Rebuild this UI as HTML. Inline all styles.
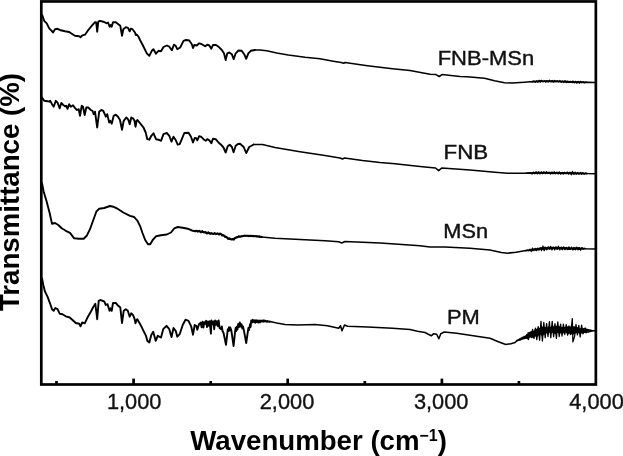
<!DOCTYPE html>
<html><head><meta charset="utf-8"><title>FTIR spectra</title>
<style>
html,body{margin:0;padding:0;background:#fff;}
body{width:623px;height:456px;overflow:hidden;}
svg{display:block;font-family:"Liberation Sans",Arial,Helvetica,sans-serif;}
.c{fill:none;stroke:#000;stroke-linejoin:round;stroke-linecap:round;}
.r{stroke-width:1.55;}
.l{stroke-width:1.9;}
.s{stroke-width:1.1;}
.ax{fill:none;stroke:#000;stroke-width:2.7;}
.tk line{stroke:#000;stroke-width:2.7;}
.tl text{font-size:21.8px;fill:#111;stroke:#111;stroke-width:0.35;}
.sl text{font-size:20.3px;fill:#111;stroke:#111;stroke-width:0.4;}
.al{font-weight:bold;font-size:28.3px;fill:#000;}
</style></head><body>
<svg width="623" height="456" viewBox="0 0 623 456">
<rect width="623" height="456" fill="#fff"/>
<g class="c r">
<path d="M255.0,50.0 L260.0,50.0 L266.7,50.8 L276.7,53.0 L288.3,55.0 L305.0,57.2 L320.0,58.8 L333.3,61.2 L341.2,62.5 L343.7,63.2 L345.0,62.5 L367.5,65.7 L392.5,68.7 L410.0,70.5 L430.0,74.2 L436.0,74.6 L439.2,76.5 L442.0,74.6 L460.0,76.5 L467.0,76.7 L484.5,78.2 L494.5,80.7 L504.5,82.7 L512.0,83.0 L524.5,82.2 L530.0,81.8 L530.6,81.8 L531.2,81.7 L531.8,81.8 L532.4,81.4 L533.0,81.8 L533.6,81.3 L534.2,81.8 L534.8,81.2 L535.4,81.8 L536.0,81.2 L536.6,81.7 L537.2,81.0 L537.8,81.7 L538.4,81.0 L539.0,81.6 L539.6,80.9 L540.2,81.5 L540.8,80.9 L541.4,81.4 L542.0,81.0 L542.6,81.4 L543.2,81.0 L543.8,81.5 L544.4,81.0 L545.0,81.4 L545.6,81.0 L546.2,81.6 L546.8,80.8 L547.4,81.5 L548.0,81.0 L548.6,81.4 L549.2,81.0 L549.8,81.5 L550.4,81.0 L551.0,81.5 L551.6,81.0 L552.2,81.6 L552.8,80.8 L553.4,81.5 L554.0,81.0 L554.6,81.6 L555.2,81.0 L555.8,81.5 L556.4,81.1 L557.0,81.6 L557.6,81.1 L558.2,81.6 L558.8,81.2 L559.4,81.7 L560.0,81.3 L560.6,81.7 L561.2,81.3 L561.8,81.8 L562.4,81.4 L563.0,81.8 L563.6,81.4 L564.2,81.9 L564.8,81.4 L565.4,82.0 L566.0,81.4 L566.6,82.1 L567.2,81.4 L567.8,82.2 L568.4,81.6 L569.0,82.1 L569.6,81.5 L570.2,82.1 L570.8,81.6 L571.4,82.3 L572.0,81.8 L572.6,82.4 L573.2,81.7 L573.8,82.3 L574.4,81.7 L575.0,82.4 L575.6,81.9 L576.2,82.4 L576.8,81.8 L577.4,82.5 L578.0,81.8 L578.6,82.5 L579.2,81.9 L579.8,82.5 L580.4,81.9 L581.0,82.5 L581.6,82.0 L582.2,82.4 L582.8,82.0 L583.4,82.5 L584.0,82.1 L584.6,82.6 L585.2,82.1 L585.8,82.5 L586.4,82.2 L587.0,82.4 L587.6,82.3 L595.0,82.5"/>
<path d="M253.7,144.5 L262.5,144.5 L275.0,147.5 L300.0,151.7 L325.0,155.5 L340.0,158.0 L342.5,159.0 L344.5,158.0 L362.5,160.5 L380.0,162.5 L395.0,163.7 L420.0,166.5 L435.5,168.0 L438.7,170.7 L441.7,168.0 L470.0,170.0 L495.0,172.3 L507.5,173.2 L525.0,173.2 L527.0,173.1 L527.6,173.2 L528.2,173.0 L528.8,173.2 L529.4,172.8 L530.0,173.3 L530.6,172.8 L531.2,173.4 L531.8,172.7 L532.4,173.2 L533.0,172.6 L533.6,173.3 L534.2,172.6 L534.8,173.3 L535.4,172.3 L536.0,173.2 L536.6,172.5 L537.2,173.1 L537.8,172.4 L538.4,173.2 L539.0,172.3 L539.6,173.1 L540.2,172.5 L540.8,173.0 L541.4,172.5 L542.0,173.2 L542.6,172.5 L543.2,173.1 L543.8,172.6 L544.4,173.0 L545.0,172.5 L545.6,173.2 L546.2,172.4 L546.8,173.2 L547.4,172.5 L548.0,173.2 L548.6,172.5 L549.2,173.2 L549.8,172.6 L550.4,173.3 L551.0,172.6 L551.6,173.4 L552.2,172.4 L552.8,173.1 L553.4,172.6 L554.0,173.4 L554.6,172.4 L555.2,173.3 L555.8,172.7 L556.4,173.2 L557.0,172.5 L557.6,173.2 L558.2,172.6 L558.8,173.2 L559.4,172.6 L560.0,173.5 L560.6,172.8 L561.2,173.5 L561.8,172.7 L562.4,173.5 L563.0,172.7 L563.6,173.3 L564.2,172.6 L564.8,173.4 L565.4,172.9 L566.0,173.3 L566.6,172.8 L567.2,173.5 L567.8,172.8 L568.4,173.4 L569.0,172.9 L569.6,173.5 L570.2,172.7 L570.8,173.4 L571.4,172.8 L572.0,173.7 L572.6,173.0 L573.2,173.7 L573.8,172.8 L574.4,173.7 L575.0,173.0 L575.6,173.6 L576.2,173.0 L576.8,173.8 L577.4,172.9 L578.0,173.6 L578.6,173.0 L579.2,173.6 L579.8,173.2 L580.4,173.6 L581.0,172.9 L581.6,173.7 L582.2,172.9 L582.8,173.7 L583.4,173.2 L584.0,173.8 L584.6,173.3 L585.2,173.7 L585.8,173.2 L586.4,173.7 L587.0,173.4 L587.6,173.6 L595.0,173.7"/>
<path d="M259.2,236.4 L260.0,237.0 L260.8,236.6 L261.6,237.1 L275.0,238.2 L300.0,239.5 L325.0,240.7 L338.7,241.7 L341.7,243.0 L345.0,241.5 L362.5,242.2 L380.0,243.0 L395.0,244.0 L420.0,245.7 L430.0,247.0 L445.0,247.0 L470.0,248.2 L490.0,250.0 L501.3,252.6 L507.6,253.2 L516.0,252.2 L526.0,250.6 L526.6,250.6 L527.2,250.3 L527.8,250.5 L528.4,250.1 L529.0,250.5 L529.6,249.8 L530.2,250.5 L530.8,249.5 L531.4,250.3 L532.0,249.5 L532.6,250.5 L533.2,249.3 L533.8,250.2 L534.4,249.1 L535.0,249.9 L535.6,248.7 L536.2,250.1 L536.8,248.8 L537.4,249.8 L538.0,248.6 L538.6,249.6 L539.2,248.4 L539.8,249.2 L540.4,248.3 L541.0,249.1 L541.6,247.8 L542.2,249.1 L542.8,247.9 L543.4,249.4 L544.0,247.3 L544.6,249.1 L545.2,247.8 L545.8,248.9 L546.4,247.8 L547.0,248.9 L547.6,247.8 L548.2,248.7 L548.8,247.8 L549.4,248.8 L550.0,247.4 L550.6,248.8 L551.2,247.6 L551.8,248.6 L552.4,247.5 L553.0,248.6 L553.6,247.6 L554.2,248.4 L554.8,247.6 L555.4,248.8 L556.0,247.6 L556.6,248.6 L557.2,247.4 L557.8,248.8 L558.4,247.7 L559.0,248.6 L559.6,247.7 L560.2,248.7 L560.8,247.7 L561.4,249.0 L562.0,247.5 L562.6,249.0 L563.2,247.9 L563.8,248.6 L564.4,247.7 L565.0,249.1 L565.6,247.8 L566.2,249.0 L566.8,248.1 L567.4,248.9 L568.0,247.7 L568.6,249.2 L569.2,247.8 L569.8,249.3 L570.4,248.1 L571.0,248.9 L571.6,248.2 L572.2,249.2 L572.8,248.0 L573.4,249.4 L574.0,247.9 L574.6,249.2 L575.2,247.9 L575.8,249.1 L576.4,248.0 L577.0,248.9 L577.6,247.9 L578.2,249.0 L578.8,247.8 L579.4,249.2 L580.0,248.1 L580.6,248.9 L581.2,248.2 L581.8,249.0 L582.4,248.2 L583.0,248.8 L583.6,248.5 L584.2,248.8 L584.8,248.5 L585.4,248.7 L595.0,249.0"/>
<path d="M269.6,321.7 L270.0,321.6 L276.7,323.0 L285.0,324.4 L297.5,325.0 L315.0,324.5 L327.5,325.7 L338.7,328.2 L340.5,325.7 L342.0,330.7 L344.5,325.0 L347.5,326.2 L367.5,327.0 L392.5,328.2 L410.0,329.5 L417.5,331.2 L425.0,332.5 L428.3,334.2 L431.3,335.8 L433.7,333.7 L436.7,334.2 L438.8,338.8 L440.8,333.7 L444.2,332.0 L456.7,333.3 L473.3,335.8 L490.0,338.3 L498.3,341.7 L505.8,344.5 L510.8,343.7 L515.0,342.5 L515.6,341.8 L516.3,341.4 L517.0,340.4 L517.7,340.7 L518.4,339.6 L519.1,340.3 L519.8,338.9 L520.5,339.9 L521.2,338.0 L521.9,339.2 L522.6,337.4 L523.3,338.8 L524.0,336.5 L524.7,338.5 L525.4,336.1 L526.1,338.3 L526.8,335.0 L527.5,338.4 L528.2,332.8 L528.9,337.5 L529.6,332.7 L530.3,336.7 L531.0,331.8 L531.7,337.4 L532.4,331.4 L533.1,337.1 L533.8,331.2 L534.5,336.4 L535.2,330.0 L535.9,335.8 L536.6,329.6 L537.3,335.9 L538.0,328.3 L538.7,335.0 L539.4,328.5 L540.1,334.0 L540.8,328.2 L541.5,334.9 L542.2,327.3 L542.9,334.9 L543.6,328.5 L544.3,333.8 L545.0,327.5 L545.7,332.8 L546.4,327.7 L547.1,332.8 L547.8,328.1 L548.5,332.3 L549.2,326.5 L549.9,332.2 L550.6,327.5 L551.3,332.7 L552.0,326.2 L552.7,332.1 L553.4,327.0 L554.1,333.0 L554.8,326.2 L555.5,333.5 L556.2,326.2 L556.9,332.4 L557.6,327.2 L558.3,332.5 L559.0,326.4 L559.7,333.5 L560.4,327.9 L561.1,332.1 L561.8,327.7 L562.5,332.2 L563.2,327.2 L563.9,332.8 L564.6,327.6 L565.3,331.8 L566.0,327.3 L566.7,332.5 L567.4,327.1 L568.1,333.6 L568.8,326.9 L569.5,332.9 L570.2,327.1 L570.9,333.3 L571.6,328.1 L572.3,334.3 L573.0,326.7 L573.7,333.8 L574.4,327.1 L575.1,333.0 L575.8,327.9 L576.5,332.5 L577.2,327.7 L577.9,332.5 L578.6,328.8 L579.3,332.9 L580.0,328.7 L580.7,333.2 L581.4,328.9 L582.1,332.5 L582.8,328.8 L583.5,332.6 L584.2,328.5 L584.9,332.3 L585.6,328.3 L586.3,332.6 L587.0,329.6 L587.7,331.9 L588.4,329.7 L589.1,331.7 L589.8,330.2 L590.5,331.5 L591.2,330.4 L591.9,330.8 L592.6,330.8 L593.3,330.8 L594.0,330.8 L594.7,330.8 L595.0,330.8"/>
</g>
<g class="c l">
<path d="M42.0,15.0 L42.5,15.8 L44.2,20.8 L46.7,23.3 L49.2,28.3 L51.7,30.8 L53.0,32.5 L55.0,29.2 L57.5,28.8 L60.8,30.3 L65.0,31.2 L69.2,32.0 L72.5,34.2 L75.0,35.8 L79.2,36.2 L80.5,37.2 L82.5,35.3 L85.0,34.7 L88.3,30.0 L91.7,25.8 L95.0,22.2 L96.2,22.5 L97.2,31.7 L98.3,21.7 L100.0,20.8 L104.2,22.0 L106.7,23.3 L108.0,22.5 L109.7,26.7 L110.8,25.0 L111.7,26.7 L113.0,22.2 L115.8,22.2 L118.3,24.2 L120.3,25.8 L122.0,35.8 L123.3,29.2 L125.8,27.2 L128.0,27.8 L129.7,31.3 L130.8,28.7 L132.5,29.2 L135.0,32.5 L135.8,35.0 L137.0,34.7 L138.5,36.7 L140.0,40.0 L142.7,45.0 L146.8,53.3 L149.3,55.8 L151.8,50.8 L153.5,49.2 L156.0,53.7 L158.5,50.8 L161.0,51.3 L163.5,47.0 L166.8,45.5 L169.3,46.7 L171.8,50.3 L174.0,44.7 L175.7,45.8 L177.3,49.2 L180.2,47.5 L183.5,40.8 L186.0,40.0 L189.3,40.5 L191.8,44.2 L193.0,48.0 L194.3,45.0 L196.8,45.5 L199.0,43.3 L201.8,44.2 L205.2,46.3 L207.3,44.7 L209.3,45.5 L211.3,48.7 L213.0,45.0 L216.0,45.0 L218.5,46.7 L221.8,50.0 L224.0,53.3 L225.7,60.0 L227.3,53.3 L229.3,52.5 L231.8,54.2 L233.7,59.2 L235.7,53.3 L238.5,50.5 L241.7,50.8 L244.2,54.2 L246.2,58.8 L248.3,53.3 L250.8,50.8 L255.0,50.0"/>
<path d="M42.0,97.5 L44.2,100.8 L47.5,101.2 L49.2,101.7 L50.3,100.8 L52.0,104.2 L53.7,106.7 L55.8,100.8 L57.5,102.5 L59.7,108.3 L61.3,103.0 L63.3,105.0 L65.0,106.3 L66.3,105.8 L67.5,108.8 L69.2,104.2 L70.8,106.7 L73.0,105.3 L75.3,108.3 L77.0,110.0 L78.7,109.2 L80.0,115.8 L81.7,105.8 L83.0,106.7 L84.7,115.0 L86.3,107.5 L88.3,107.5 L90.8,110.0 L92.5,110.8 L93.7,114.2 L95.0,111.7 L97.2,127.5 L99.2,111.7 L101.3,110.0 L103.3,110.8 L105.8,116.7 L107.2,114.2 L109.2,122.5 L110.3,120.8 L111.7,123.7 L113.7,115.8 L115.8,114.7 L118.0,116.7 L120.0,120.0 L122.0,129.7 L123.7,120.8 L126.3,117.5 L128.3,119.7 L129.7,124.2 L131.3,117.5 L133.0,118.3 L134.5,120.8 L135.5,126.7 L136.7,120.5 L137.5,120.0 L140.2,123.3 L143.5,127.5 L145.7,132.5 L147.3,139.2 L149.3,139.7 L151.3,135.8 L153.5,133.3 L156.0,139.2 L158.5,139.7 L161.0,140.8 L163.5,134.2 L166.8,133.0 L169.3,135.8 L171.5,141.7 L173.5,136.7 L175.7,140.0 L177.7,144.7 L179.7,144.2 L181.8,139.2 L184.3,133.0 L188.5,132.7 L191.0,136.7 L193.0,142.5 L194.7,138.0 L196.3,138.3 L197.3,140.3 L199.0,136.3 L201.0,136.7 L203.5,139.2 L205.7,140.8 L207.3,139.2 L209.3,140.3 L211.3,143.3 L213.0,138.7 L215.7,139.2 L218.5,142.5 L221.0,144.7 L223.5,147.5 L225.7,152.5 L227.7,146.2 L229.7,144.7 L231.8,146.7 L233.6,152.3 L235.7,145.8 L238.0,144.0 L240.0,143.7 L243.7,147.0 L246.2,153.0 L249.2,147.0 L253.7,144.5"/>
<path d="M42.0,183.3 L43.7,191.7 L46.7,201.7 L49.7,213.3 L52.0,223.7 L55.0,223.0 L58.3,225.0 L61.7,228.3 L65.8,230.8 L70.0,232.8 L74.2,238.3 L79.2,238.7 L83.7,238.7 L86.7,235.8 L90.0,229.2 L93.3,220.0 L96.3,211.7 L99.2,208.7 L104.2,208.0 L110.0,206.0 L113.3,206.7 L118.3,209.2 L123.3,212.5 L130.0,215.8 L134.2,217.0 L137.5,220.8 L140.0,225.8 L142.5,233.0 L145.2,240.0 L148.0,244.2 L150.2,244.2 L152.7,240.0 L156.0,236.3 L161.0,235.3 L166.8,234.5 L171.0,232.5 L174.3,228.3 L177.7,227.0 L182.7,227.7 L187.7,228.7 L192.0,230.5 L192.8,230.9 L193.6,230.8 L194.4,231.0 L195.2,230.8 L196.0,231.3 L196.8,230.8 L197.6,231.5 L198.4,231.0 L199.2,231.5 L200.0,231.2 L200.8,231.9 L201.6,231.4 L202.4,232.1 L203.2,231.9 L204.0,232.4 L204.8,232.0 L205.6,232.7 L206.4,232.4 L207.2,233.0 L208.0,232.5 L208.8,233.2 L209.6,233.0 L210.4,233.5 L211.2,233.2 L212.0,233.9 L212.8,233.5 L213.6,234.0 L214.4,233.4 L215.2,233.9 L216.0,233.5 L216.8,234.0 L217.6,233.5 L218.4,234.0 L219.2,233.5 L220.0,234.2 L220.8,234.0 L221.6,234.9 L222.4,234.7 L223.2,235.6 L224.0,235.5 L224.8,236.3 L225.6,236.4 L226.4,237.5 L227.2,237.4 L228.0,238.4 L228.8,238.5 L229.6,239.1 L230.4,238.7 L231.2,239.4 L232.0,239.2 L232.8,239.5 L233.6,238.7 L234.4,238.9 L235.2,237.8 L236.0,238.0 L236.8,237.0 L237.6,237.3 L238.4,236.6 L239.2,236.9 L240.0,236.2 L240.8,236.7 L241.6,236.1 L242.4,236.4 L243.2,235.8 L244.0,236.1 L244.8,235.5 L245.6,235.9 L246.4,235.6 L247.2,236.0 L248.0,235.6 L248.8,236.2 L249.6,235.8 L250.4,236.3 L251.2,235.8 L252.0,236.3 L252.8,235.8 L253.6,236.4 L254.4,235.9 L255.2,236.4 L256.0,236.1 L256.8,236.6 L257.6,236.1 L258.4,236.7 L259.2,236.4 L260.0,237.0 L260.8,236.6 L261.6,237.1"/>
<path d="M42.0,278.3 L43.3,285.0 L45.0,291.7 L47.5,296.7 L50.0,303.3 L52.0,309.2 L53.7,310.8 L55.3,308.0 L57.5,309.2 L59.7,313.7 L62.5,314.2 L65.8,316.3 L69.7,317.5 L72.5,320.0 L75.8,323.0 L79.2,323.7 L80.5,326.3 L82.2,322.5 L84.7,323.3 L87.5,317.5 L90.8,311.7 L93.3,307.0 L95.3,303.7 L97.2,319.2 L98.7,300.8 L100.3,300.0 L104.2,301.3 L105.8,305.0 L107.5,304.2 L109.5,310.8 L110.5,308.3 L111.7,310.8 L113.0,303.0 L115.8,303.0 L118.3,305.8 L120.3,307.5 L122.0,323.0 L123.7,310.8 L125.8,309.2 L127.8,310.8 L129.7,316.7 L131.2,313.3 L133.0,315.0 L134.5,318.7 L135.5,323.3 L136.7,319.7 L137.3,319.2 L140.2,324.2 L143.5,330.8 L146.0,335.8 L147.3,340.8 L149.3,342.5 L151.3,335.0 L153.2,331.7 L155.7,340.8 L157.7,335.8 L161.0,337.5 L163.2,329.2 L166.5,325.8 L169.3,329.2 L171.5,337.0 L173.5,328.0 L175.7,330.8 L177.3,336.7 L179.7,334.2 L182.7,325.0 L185.5,319.7 L188.5,320.8 L191.3,326.7 L193.0,334.7 L194.7,325.0 L196.3,325.8 L197.3,329.7 L199.0,324.2 L200.7,322.6 L201.6,327.3 L202.5,321.8 L203.4,327.6 L204.3,322.3 L205.2,323.8 L206.1,320.8 L207.0,327.1 L207.9,321.4 L208.8,325.9 L209.7,321.1 L210.9,333.6 L211.5,320.5 L212.4,324.2 L213.3,321.4 L214.2,329.2 L215.1,320.5 L216.0,324.7 L216.9,321.2 L217.8,326.2 L218.7,320.5 L219.6,328.2 L221.1,329.1 L221.8,326.5 L222.5,331.0 L223.5,332.7 L226.0,344.8 L227.8,329.1 L228.4,331.0 L229.0,327.3 L229.7,330.5 L230.3,327.5 L231.4,330.9 L233.6,346.0 L235.0,332.7 L235.6,328.0 L236.2,331.0 L236.8,326.7 L237.5,329.5 L238.2,324.0 L239.0,327.0 L239.8,322.5 L240.6,326.5 L241.6,324.3 L242.3,328.5 L243.0,326.5 L244.0,330.9 L246.2,343.0 L247.7,332.7 L248.4,328.0 L249.0,330.0 L250.0,324.3 L250.6,327.0 L251.2,320.4 L252.0,322.5 L252.8,319.8 L253.6,321.9 L254.4,320.3 L255.2,322.8 L256.0,320.1 L256.8,322.1 L257.6,320.4 L258.4,322.6 L259.2,320.6 L260.0,322.4 L260.8,320.5 L261.6,321.6 L262.4,320.6 L263.2,321.8 L264.0,320.3 L264.8,321.5 L265.6,320.7 L266.4,321.8 L267.2,321.0 L268.0,321.7 L268.8,321.4 L269.6,321.7 L270.0,321.6"/>
</g>
<g class="c s">
<path d="M530.0,81.8 L531.3,81.5 L532.6,82.1 L533.9,80.9 L535.2,82.5 L536.5,80.8 L537.8,82.2 L539.1,80.2 L540.4,82.2 L541.7,80.2 L543.0,82.0 L544.3,80.6 L545.6,82.2 L546.9,80.5 L548.2,82.2 L549.5,80.1 L550.8,82.0 L552.1,80.4 L553.4,82.3 L554.7,80.3 L556.0,81.9 L557.3,80.7 L558.6,82.0 L559.9,80.4 L561.2,82.5 L562.5,80.9 L563.8,82.6 L565.1,80.6 L566.4,82.7 L567.7,81.1 L569.0,82.7 L570.3,81.3 L571.6,82.5 L572.9,80.9 L574.2,83.0 L575.5,81.2 L576.8,83.2 L578.1,81.3 L579.4,83.2 L580.7,81.2 L582.0,82.9 L583.3,81.6 L584.6,82.8 L585.9,82.0 L587.2,82.5 L588.0,82.3"/>
<path d="M527.0,173.1 L528.3,172.9 L529.6,173.5 L530.9,172.5 L532.2,174.1 L533.5,172.0 L534.8,173.9 L536.1,171.7 L537.4,174.1 L538.7,171.7 L540.0,174.1 L541.3,171.7 L542.6,173.8 L543.9,171.5 L545.2,173.8 L546.5,171.6 L547.8,173.7 L549.1,172.1 L550.4,174.1 L551.7,172.1 L553.0,173.9 L554.3,171.7 L555.6,174.0 L556.9,172.0 L558.2,174.1 L559.5,171.9 L560.8,174.3 L562.1,172.3 L563.4,174.2 L564.7,172.2 L566.0,174.0 L567.3,171.9 L568.6,174.2 L569.9,172.0 L571.2,174.9 L572.5,171.3 L573.8,174.4 L575.1,172.1 L576.4,174.3 L577.7,172.3 L579.0,174.5 L580.3,172.4 L581.6,174.5 L582.9,172.6 L584.2,174.3 L585.5,173.0 L586.8,173.8 L588.0,173.5"/>
<path d="M526.0,250.6 L527.3,250.0 L528.6,250.8 L529.9,249.1 L531.2,251.6 L532.5,247.9 L533.8,250.7 L535.1,248.3 L536.4,250.7 L537.7,248.0 L539.0,250.2 L540.3,247.6 L541.6,250.7 L542.9,245.8 L544.2,250.8 L545.5,247.1 L546.8,250.0 L548.1,246.6 L549.4,249.3 L550.7,246.3 L552.0,250.1 L553.3,246.9 L554.6,250.0 L555.9,246.6 L557.2,249.5 L558.5,246.1 L559.8,250.0 L561.1,247.0 L562.4,249.7 L563.7,246.8 L565.0,249.7 L566.3,247.2 L567.6,249.7 L568.9,246.8 L570.2,249.5 L571.5,247.0 L572.8,250.0 L574.1,247.6 L575.4,249.9 L576.7,247.0 L578.0,250.1 L579.3,247.5 L580.6,250.4 L581.9,247.4 L583.2,249.5 L584.5,248.4 L585.8,248.7 L586.0,248.7"/>
<path d="M192.0,230.5 L193.5,230.7 L195.0,231.9 L196.5,230.4 L198.0,231.8 L199.5,230.4 L201.0,233.0 L202.5,230.6 L204.0,232.9 L205.5,231.8 L207.0,234.1 L208.5,231.9 L210.0,234.5 L211.5,232.8 L213.0,234.3 L214.5,232.5 L216.0,234.6 L217.5,233.2 L219.0,235.1 L220.5,233.1 L222.0,236.1 L223.5,234.9 L225.0,237.6 L226.5,236.7 L228.0,239.6 L229.5,237.9 L231.0,240.0 L232.5,238.5 L234.0,240.2 L235.5,237.3 L237.0,237.8 L238.5,235.8 L240.0,237.1 L241.5,236.1 L243.0,236.4 L244.5,235.5 L246.0,236.1 L247.5,235.4 L249.0,236.3 L250.5,235.3 L252.0,236.5 L253.5,235.6 L255.0,236.5 L256.5,235.9 L258.0,236.8 L259.5,236.3 L261.0,236.9 L262.0,236.9"/>
<path style="stroke-width:1.3" d="M527.0,336.4 L527.0,334.4 L528.4,339.7 L529.8,332.4 L531.2,337.3 L532.6,329.5 L534.0,338.3 L535.4,328.1 L536.8,339.6 L538.2,326.6 L539.6,340.2 L541.0,321.4 L542.4,341.0 L543.8,322.5 L545.2,337.6 L546.6,323.6 L548.0,336.5 L549.4,321.6 L550.8,337.6 L552.2,321.4 L553.6,336.7 L555.0,323.7 L556.4,338.4 L557.8,322.0 L559.2,336.5 L560.6,324.2 L562.0,336.0 L563.4,324.1 L564.8,334.5 L566.2,324.6 L567.6,335.1 L569.0,326.0 L570.4,334.5 L571.8,323.3 L572.3,318.6 L572.9,341.9 L574.6,336.4 L576.0,324.5 L577.4,334.9 L578.8,325.3 L580.2,336.8 L581.6,325.2 L583.0,333.9 L584.4,328.5 L585.8,332.6 L587.2,329.4 L588.6,331.9 L590.0,329.9 L591.4,331.1 L592.5,330.8"/>
</g>
<rect class="ax" x="41.3" y="1.45" width="554.5500000000001" height="383.05"/>
<g class="tk"><line x1="56.5" y1="384.5" x2="56.5" y2="381.0"/><line x1="133.6" y1="384.5" x2="133.6" y2="378.6"/><line x1="210.7" y1="384.5" x2="210.7" y2="381.0"/><line x1="287.7" y1="384.5" x2="287.7" y2="378.6"/><line x1="364.8" y1="384.5" x2="364.8" y2="381.0"/><line x1="441.9" y1="384.5" x2="441.9" y2="378.6"/><line x1="518.9" y1="384.5" x2="518.9" y2="381.0"/></g>
<g class="tl"><text x="134.2" y="409.0" text-anchor="middle">1,000</text><text x="287.0" y="409.0" text-anchor="middle">2,000</text><text x="441.2" y="409.0" text-anchor="middle">3,000</text><text x="596.5" y="409.0" text-anchor="middle">4,000</text></g>
<g class="sl">
<text x="437.7" y="64.7" textLength="96.5" lengthAdjust="spacingAndGlyphs">FNB-MSn</text>
<text x="443.5" y="159" textLength="44.7" lengthAdjust="spacingAndGlyphs">FNB</text>
<text x="443.3" y="237.6" textLength="44.7" lengthAdjust="spacingAndGlyphs">MSn</text>
<text x="446.9" y="323.8" textLength="32.8" lengthAdjust="spacingAndGlyphs">PM</text>
</g>
<text class="al" x="190.3" y="450" textLength="256.6" lengthAdjust="spacingAndGlyphs">Wavenumber (cm<tspan font-size="16.3" dy="-9.2">−1</tspan><tspan dy="9.2">)</tspan></text>
<text class="al" transform="translate(19.3,311) rotate(-90)" textLength="238" lengthAdjust="spacingAndGlyphs">Transmittance (%)</text>
</svg>
</body></html>
